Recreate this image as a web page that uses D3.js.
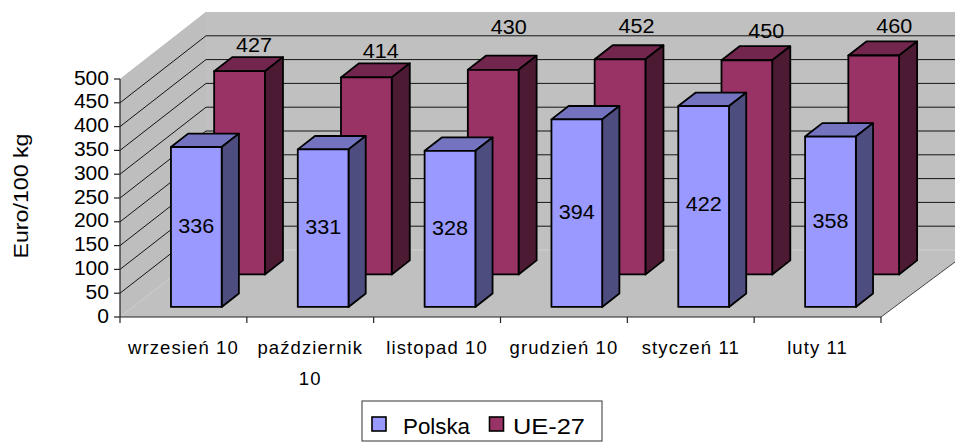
<!DOCTYPE html>
<html><head><meta charset="utf-8">
<script src="https://cdn.jsdelivr.net/npm/d3@7/dist/d3.min.js"></script>
<style>html,body{margin:0;padding:0;background:#fff}svg{display:block}text{font-family:"Liberation Sans",Arial,sans-serif;fill:#000}</style>
</head><body><svg id="c" width="955" height="442"></svg>
<script>
const categories = ["wrzesień 10","październik 10","listopad 10","grudzień 10","styczeń 11","luty 11"];
const polska = [336,331,328,394,422,358];
const ue27 = [427,414,430,452,450,460];
const yTicks = [0,50,100,150,200,250,300,350,400,450,500];
const seriesNames = ["Polska","UE-27"];

const svg = d3.select("#c");
const y = d3.scaleLinear().domain([0,500]).range([0,-238]);
const x = d3.scaleBand().domain(categories).range([120,881]).paddingInner(.6).paddingOuter(.3);
const tickX = d3.scaleLinear().domain([0,6]).range([120,881]);
const dx = d3.scaleLinear().domain([0,1]).range([0,86]);
const dy = d3.scaleLinear().domain([0,1]).range([0,-67]);
const P = (px,v,d)=>[px+dx(d), 317+y(v)+dy(d)];
const pts = a=>a.map(p=>p.join(",")).join(" ");

const grey="#c0c0c0";
// walls and floor
svg.append("polygon").attr("points",pts([P(120,500,0),P(120,500,1),[955,12],[955,262],P(881,0,0),P(120,0,0)])).attr("fill",grey);
svg.append("polygon").attr("points",pts([P(120,500,0),P(120,500,1),P(120,0,1),P(120,0,0)])).attr("fill","#bebebe");
// gridlines
const gridVals = yTicks.filter(v=>v>0&&v<500);
svg.selectAll(".gb").data(gridVals).join("line").attr("x1",P(120,0,1)[0]).attr("x2",955)
  .attr("y1",v=>P(120,v,1)[1]).attr("y2",v=>P(120,v,1)[1]).attr("stroke","#000").attr("stroke-width",.9);
svg.selectAll(".gd").data(gridVals).join("line").attr("x1",P(120,0,0)[0]).attr("y1",v=>P(120,v,0)[1])
  .attr("x2",P(120,0,1)[0]).attr("y2",v=>P(120,v,1)[1]).attr("stroke","#000").attr("stroke-width",.9);
// floor seams
svg.append("line").attr("x1",P(120,0,1)[0]).attr("x2",955).attr("y1",250).attr("y2",250).attr("stroke","#d0d0d0").attr("stroke-width",1);
svg.append("line").attr("x1",120).attr("y1",317).attr("x2",P(120,0,1)[0]).attr("y2",250).attr("stroke","#d8d8d8").attr("stroke-dasharray","2 1");
// axes
svg.append("line").attr("x1",120).attr("x2",120).attr("y1",79).attr("y2",317).attr("stroke","#222").attr("stroke-width",1.2);
svg.append("line").attr("x1",120).attr("x2",881).attr("y1",317).attr("y2",317).attr("stroke","#222").attr("stroke-width",1.2);
svg.append("line").attr("x1",881).attr("y1",317).attr("x2",955).attr("y2",262).attr("stroke","#333").attr("stroke-width",.9);
svg.selectAll(".ty").data(yTicks).join("line").attr("x1",114).attr("x2",120).attr("y1",v=>317+y(v)).attr("y2",v=>317+y(v)).attr("stroke","#222").attr("stroke-width",1.2);
svg.selectAll(".tx").data(d3.range(7)).join("line").attr("x1",i=>tickX(i)).attr("x2",i=>tickX(i)).attr("y1",317).attr("y2",323).attr("stroke","#222").attr("stroke-width",1.2);
svg.selectAll(".yl").data(yTicks).join("text").attr("x",109).attr("y",v=>317+y(v)+5.5).attr("text-anchor","end").attr("font-size",20)
  .attr("textLength",v=>String(v).length*11.7).attr("lengthAdjust","spacingAndGlyphs").text(v=>v);

// bars
function bar(g,px,v,w,d0,d1,c){
  const top=[P(px,v,d0),P(px+w,v,d0),P(px+w,v,d1),P(px,v,d1)];
  const side=[P(px+w,v,d0),P(px+w,v,d1),P(px+w,0,d1),P(px+w,0,d0)];
  const front=[P(px,v,d0),P(px+w,v,d0),P(px+w,0,d0),P(px,0,d0)];
  [[top,c[1]],[side,c[2]],[front,c[0]]].forEach(([p,f])=>g.append("polygon").attr("points",pts(p)).attr("fill",f).attr("stroke","#000").attr("stroke-width",1.8).attr("stroke-linejoin","round"));
}
const cP=["#9999ff","#7373bf","#4d4d80"], cU=["#993366","#73264d","#4d1a33"];
const w=x.bandwidth();
const ueShift=1.5;
const gU=svg.append("g"), gP=svg.append("g");
categories.forEach((c,i)=>{
  bar(gU,x(c)+ueShift,ue27[i],w,.635,.845,cU);
  bar(gP,x(c),polska[i],w,.15,.35,cP);
});
// labels
const ueNudgeX=[16,16,17,18,21,22], ueNudgeY=[-19,-19,-36,-26,-22,-22], polskaNudgeY=[-1,-1,-1,-1,-3,-1];
svg.selectAll(".lu").data(ue27).join("text").attr("font-size",20).attr("text-anchor","middle")
  .attr("textLength",36).attr("lengthAdjust","spacingAndGlyphs")
  .attr("x",(v,i)=>P(x(categories[i])+w/2,v,.635)[0]+ueNudgeX[i])
  .attr("y",(v,i)=>P(0,v,.635)[1]+ueNudgeY[i]).text(v=>v);
svg.selectAll(".lp").data(polska).join("text").attr("font-size",20).attr("text-anchor","middle")
  .attr("textLength",36).attr("lengthAdjust","spacingAndGlyphs")
  .attr("x",(v,i)=>P(x(categories[i])+w/2,0,.15)[0])
  .attr("y",(v,i)=>P(0,v/2,.15)[1]+7+polskaNudgeY[i]).text(v=>v);
// category labels
const catLines=categories.map(c=>c==="październik 10"?["październik","10"]:[c]);
categories.forEach((c,i)=>{
  catLines[i].forEach((t,j)=>svg.append("text").attr("x",x(c)+w/2).attr("y",354+j*31).attr("text-anchor","middle").attr("font-size",18.5).attr("letter-spacing",1.1).text(t));
});
// y title
svg.append("text").attr("transform","translate(27.5,196) rotate(-90)").attr("text-anchor","middle").attr("font-size",20.5)
  .attr("textLength",125).attr("lengthAdjust","spacingAndGlyphs").text("Euro/100 kg");
// legend
svg.append("rect").attr("x",362).attr("y",401).attr("width",240).attr("height",40).attr("fill","#fff").attr("stroke","#333").attr("stroke-width",1);
const lx=[372,489.5], ltx=[403,513], ltw=[67,72];
seriesNames.forEach((n,i)=>{
  svg.append("rect").attr("x",lx[i]).attr("y",417).attr("width",14).attr("height",14).attr("fill",[cP[0],cU[0]][i]).attr("stroke","#000").attr("stroke-width",1.6);
  svg.append("text").attr("x",ltx[i]).attr("y",434).attr("font-size",22).attr("textLength",ltw[i]).attr("lengthAdjust","spacingAndGlyphs").text(n);
});
</script></body></html>
